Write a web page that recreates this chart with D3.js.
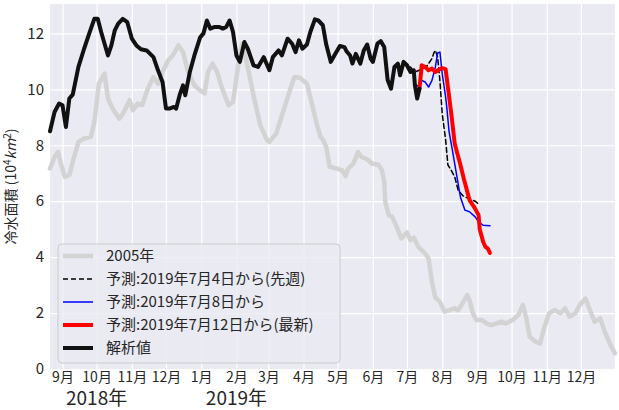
<!DOCTYPE html>
<html>
<head>
<meta charset="utf-8">
<script src="https://cdn.jsdelivr.net/npm/d3@7"></script>
<style>
  body { margin: 0; background: #fff; }
  text { font-family: 'Noto Sans CJK JP', 'Noto Sans', sans-serif; fill: #262626; }
</style>
</head>
<body>
<div id="chart"></div>
<script>
// 解析値
const analysis = [
  ['2018-08-21', 8.5], ['2018-08-25', 9.19], ['2018-08-29', 9.49], ['2018-09-01', 9.43],
  ['2018-09-04', 8.65], ['2018-09-07', 9.67], ['2018-09-10', 9.81], ['2018-09-15', 10.8],
  ['2018-09-20', 11.45], ['2018-09-25', 12.05], ['2018-09-29', 12.52], ['2018-10-02', 12.52],
  ['2018-10-05', 12.05], ['2018-10-08', 11.63], ['2018-10-11', 11.21], ['2018-10-14', 11.57],
  ['2018-10-17', 12.11], ['2018-10-20', 12.35], ['2018-10-24', 12.52], ['2018-10-28', 12.4],
  ['2018-11-01', 11.81], ['2018-11-05', 11.57], ['2018-11-09', 11.43], ['2018-11-14', 11.39],
  ['2018-11-20', 11.15], ['2018-11-24', 10.68], ['2018-11-28', 10.26], ['2018-12-01', 9.31],
  ['2018-12-04', 9.31], ['2018-12-08', 9.37], ['2018-12-10', 9.31], ['2018-12-13', 9.79],
  ['2018-12-16', 10.14], ['2018-12-18', 9.79], ['2018-12-22', 10.62], ['2018-12-26', 11.21],
  ['2018-12-31', 11.85], ['2019-01-03', 12.0], ['2019-01-06', 12.46], ['2019-01-09', 12.17],
  ['2019-01-13', 12.23], ['2019-01-17', 12.23], ['2019-01-20', 12.17], ['2019-01-23', 12.23],
  ['2019-01-26', 12.46], ['2019-01-29', 12.05], ['2019-02-01', 11.21], ['2019-02-04', 10.98],
  ['2019-02-08', 11.69], ['2019-02-11', 11.45], ['2019-02-16', 10.86], ['2019-02-20', 10.8],
  ['2019-02-25', 11.15], ['2019-03-02', 10.68], ['2019-03-05', 11.15], ['2019-03-10', 11.39],
  ['2019-03-13', 11.21], ['2019-03-18', 11.81], ['2019-03-22', 11.63], ['2019-03-25', 11.33],
  ['2019-03-28', 11.75], ['2019-03-31', 11.45], ['2019-04-04', 11.6], ['2019-04-07', 12.05],
  ['2019-04-11', 12.5], ['2019-04-14', 12.46], ['2019-04-18', 12.29], ['2019-04-21', 11.6],
  ['2019-04-25', 10.98], ['2019-04-29', 11.27], ['2019-05-03', 11.55], ['2019-05-07', 11.51],
  ['2019-05-09', 11.35], ['2019-05-12', 11.21], ['2019-05-14', 10.92], ['2019-05-17', 11.27],
  ['2019-05-21', 10.92], ['2019-05-24', 11.39], ['2019-05-27', 11.6], ['2019-05-30', 11.1],
  ['2019-06-01', 10.98], ['2019-06-05', 11.63], ['2019-06-08', 11.72], ['2019-06-11', 11.51],
  ['2019-06-14', 10.33], ['2019-06-17', 10.02], ['2019-06-20', 10.8], ['2019-06-23', 10.92],
  ['2019-06-25', 10.5], ['2019-06-28', 10.98], ['2019-07-01', 10.86], ['2019-07-04', 10.62],
  ['2019-07-07', 10.68], ['2019-07-08', 10.14], ['2019-07-10', 9.67], ['2019-07-12', 10.02]
];

// 2005年
const year2005 = [
  ['2018-08-21', 7.17], ['2018-08-25', 7.58], ['2018-08-28', 7.76], ['2018-08-31', 7.29],
  ['2018-09-03', 6.87], ['2018-09-07', 6.93], ['2018-09-10', 7.4], ['2018-09-15', 8.12],
  ['2018-09-20', 8.24], ['2018-09-26', 8.3], ['2018-09-29', 8.83], ['2018-10-03', 10.2],
  ['2018-10-08', 10.56], ['2018-10-11', 9.67], ['2018-10-15', 9.31], ['2018-10-21', 8.95],
  ['2018-10-25', 9.19], ['2018-10-30', 9.61], ['2018-11-02', 9.25], ['2018-11-06', 9.49],
  ['2018-11-10', 9.43], ['2018-11-15', 10.02], ['2018-11-20', 10.44], ['2018-11-24', 10.2],
  ['2018-11-28', 10.62], ['2018-12-03', 11.04], ['2018-12-07', 11.21], ['2018-12-12', 11.57],
  ['2018-12-16', 11.33], ['2018-12-20', 10.68], ['2018-12-26', 10.14], ['2018-12-31', 9.96],
  ['2019-01-04', 9.85], ['2019-01-07', 10.62], ['2019-01-11', 10.92], ['2019-01-15', 10.62],
  ['2019-01-19', 10.08], ['2019-01-25', 9.43], ['2019-01-29', 9.55], ['2019-02-03', 10.98],
  ['2019-02-06', 11.63], ['2019-02-10', 10.98], ['2019-02-16', 9.79], ['2019-02-22', 8.71],
  ['2019-02-28', 8.18], ['2019-03-02', 8.12], ['2019-03-08', 8.42], ['2019-03-14', 9.19],
  ['2019-03-20', 9.96], ['2019-03-24', 10.44], ['2019-03-29', 10.41], ['2019-04-04', 10.2],
  ['2019-04-08', 9.55], ['2019-04-13', 8.7], ['2019-04-16', 8.3], ['2019-04-18', 8.2],
  ['2019-04-21', 7.94], ['2019-04-24', 7.23], ['2019-04-30', 7.17], ['2019-05-05', 7.1],
  ['2019-05-08', 6.9], ['2019-05-10', 7.15], ['2019-05-15', 7.35], ['2019-05-19', 7.76],
  ['2019-05-22', 7.58], ['2019-05-27', 7.5], ['2019-05-31', 7.35], ['2019-06-06', 7.3],
  ['2019-06-09', 7.1], ['2019-06-11', 6.7], ['2019-06-12', 5.95], ['2019-06-15', 5.5],
  ['2019-06-18', 5.44], ['2019-06-22', 5.08], ['2019-06-26', 4.67], ['2019-07-01', 4.88],
  ['2019-07-04', 4.61], ['2019-07-07', 4.7], ['2019-07-11', 4.37], ['2019-07-17', 4.13],
  ['2019-07-20', 3.95], ['2019-07-23', 3.1], ['2019-07-26', 2.55], ['2019-07-30', 2.4],
  ['2019-08-03', 2.05], ['2019-08-08', 2.11], ['2019-08-12', 2.17], ['2019-08-15', 2.1],
  ['2019-08-18', 2.29], ['2019-08-23', 2.64], ['2019-08-25', 2.46], ['2019-08-28', 1.99],
  ['2019-08-31', 1.75], ['2019-09-05', 1.75], ['2019-09-09', 1.63], ['2019-09-13', 1.57],
  ['2019-09-18', 1.63], ['2019-09-22', 1.69], ['2019-09-26', 1.63], ['2019-10-02', 1.75],
  ['2019-10-07', 1.93], ['2019-10-11', 2.29], ['2019-10-14', 1.81], ['2019-10-17', 1.15],
  ['2019-10-22', 0.98], ['2019-10-26', 0.91], ['2019-10-30', 1.51], ['2019-11-03', 1.99],
  ['2019-11-08', 2.11], ['2019-11-13', 1.99], ['2019-11-17', 2.17], ['2019-11-21', 1.87],
  ['2019-11-26', 1.99], ['2019-11-30', 2.29], ['2019-12-05', 2.52], ['2019-12-09', 2.11],
  ['2019-12-13', 1.69], ['2019-12-18', 1.81], ['2019-12-22', 1.33], ['2019-12-27', 0.86],
  ['2019-12-31', 0.56]
];

// 予測:2019年7月4日から(先週)
const forecastJul4 = [
  ['2019-07-04', 10.8], ['2019-07-08', 10.62], ['2019-07-13', 10.7], ['2019-07-18', 10.8],
  ['2019-07-23', 11.1], ['2019-07-25', 11.33], ['2019-07-26', 11.39], ['2019-07-28', 11.15],
  ['2019-07-30', 10.3], ['2019-08-01', 9.13], ['2019-08-04', 8.2], ['2019-08-06', 7.3],
  ['2019-08-09', 7.1], ['2019-08-12', 6.87], ['2019-08-15', 6.4], ['2019-08-19', 6.2],
  ['2019-08-24', 6.1], ['2019-08-30', 6.0], ['2019-09-03', 5.86]
];

// 予測:2019年7月8日から
const forecastJul8 = [
  ['2019-07-08', 10.2], ['2019-07-11', 10.1], ['2019-07-14', 10.32], ['2019-07-17', 10.26],
  ['2019-07-20', 10.08], ['2019-07-23', 10.32], ['2019-07-26', 10.8], ['2019-07-28', 11.3],
  ['2019-07-30', 11.33], ['2019-07-31', 10.95], ['2019-08-01', 10.56], ['2019-08-04', 9.73],
  ['2019-08-05', 9.37], ['2019-08-07', 8.5], ['2019-08-10', 7.82], ['2019-08-13', 7.1],
  ['2019-08-17', 6.15], ['2019-08-21', 5.68], ['2019-08-25', 5.62], ['2019-08-30', 5.44],
  ['2019-09-02', 5.26], ['2019-09-06', 5.14], ['2019-09-12', 5.12]
];

// 予測:2019年7月12日から(最新)
const forecastJul12 = [
  ['2019-07-12', 10.02], ['2019-07-14', 10.86], ['2019-07-17', 10.8], ['2019-07-20', 10.68],
  ['2019-07-23', 10.74], ['2019-07-26', 10.62], ['2019-07-29', 10.7], ['2019-08-01', 10.76],
  ['2019-08-04', 10.72], ['2019-08-06', 10.08], ['2019-08-09', 9.13], ['2019-08-12', 8.06],
  ['2019-08-14', 7.75], ['2019-08-17', 7.3], ['2019-08-20', 6.8], ['2019-08-23', 6.35],
  ['2019-08-25', 6.04], ['2019-08-29', 5.8], ['2019-09-02', 5.5], ['2019-09-03', 5.0],
  ['2019-09-06', 4.55], ['2019-09-08', 4.37], ['2019-09-10', 4.31], ['2019-09-12', 4.15]
];

const monthTicks = [
  '2018-09-01', '2018-10-01', '2018-11-01', '2018-12-01', '2019-01-01', '2019-02-01',
  '2019-03-01', '2019-04-01', '2019-05-01', '2019-06-01', '2019-07-01', '2019-08-01',
  '2019-09-01', '2019-10-01', '2019-11-01', '2019-12-01'
];
const yearLabels = [['2018-10-01', '2018年'], ['2019-02-01', '2019年']];
const yTicks = [0, 2, 4, 6, 8, 10, 12];

const width = 619;
const height = 410;
const margin = { top: 4, right: 4, bottom: 41, left: 50 };
const graphWidth = width - margin.left - margin.right;
const graphHeight = height - margin.top - margin.bottom;

const parse = d3.timeParse('%Y-%m-%d');

const xScale = d3
  .scaleTime()
  .domain([parse('2018-08-21'), parse('2019-12-31')])
  .range([0, graphWidth]);

const yScale = d3.scaleLinear().domain([0, 13.05]).range([graphHeight, 0]);

const line = d3
  .line()
  .x((d) => xScale(parse(d[0])))
  .y((d) => yScale(d[1]));

const svg = d3
  .select('#chart')
  .append('svg')
  .attr('width', width)
  .attr('height', height);

const g = svg
  .append('g')
  .attr('transform', `translate(${margin.left},${margin.top})`);

g.append('rect')
  .attr('width', graphWidth)
  .attr('height', graphHeight)
  .attr('fill', '#eaeaf2');

// grid
g.append('g')
  .attr('transform', `translate(0,${graphHeight})`)
  .call(d3.axisBottom(xScale).tickValues(monthTicks.map(parse)).tickSize(-graphHeight).tickFormat(''))
  .call((a) => a.select('.domain').remove())
  .call((a) => a.selectAll('line').attr('stroke', '#fff').attr('stroke-width', 1.2));

g.append('g')
  .call(d3.axisLeft(yScale).tickValues(yTicks).tickSize(-graphWidth).tickFormat(''))
  .call((a) => a.select('.domain').remove())
  .call((a) => a.selectAll('line').attr('stroke', '#fff').attr('stroke-width', 1.2));

const series = [
  { data: year2005, color: '#d3d3d3', width: 4.5, dash: null, label: '2005年' },
  { data: forecastJul4, color: '#000', width: 1.5, dash: '5,3', label: '予測:2019年7月4日から(先週)' },
  { data: forecastJul8, color: '#0000ff', width: 1.5, dash: null, label: '予測:2019年7月8日から' },
  { data: forecastJul12, color: '#ff0000', width: 4, dash: null, label: '予測:2019年7月12日から(最新)' },
  { data: analysis, color: '#111', width: 4, dash: null, label: '解析値' },
];

g.selectAll('path.series')
  .data(series)
  .enter()
  .append('path')
  .attr('class', 'series')
  .attr('d', (d) => line(d.data))
  .attr('fill', 'none')
  .attr('stroke', (d) => d.color)
  .attr('stroke-width', (d) => d.width)
  .attr('stroke-dasharray', (d) => d.dash)
  .attr('stroke-linejoin', 'round')
  .attr('stroke-linecap', 'round');

// axes labels
const xAxis = g
  .append('g')
  .attr('transform', `translate(0,${graphHeight})`)
  .call(
    d3.axisBottom(xScale)
      .tickValues(monthTicks.map(parse))
      .tickSize(0)
      .tickPadding(3)
      .tickFormat((d) => d.getMonth() + 1 + '月')
  );
xAxis.select('.domain').remove();
xAxis.selectAll('text').style('font-size', '14px').attr('fill', '#262626');

g.selectAll('text.year')
  .data(yearLabels)
  .enter()
  .append('text')
  .attr('class', 'year')
  .attr('x', (d) => xScale(parse(d[0])))
  .attr('y', graphHeight + 36)
  .attr('text-anchor', 'middle')
  .style('font-size', '19px')
  .text((d) => d[1]);

const yAxis = g
  .append('g')
  .call(d3.axisLeft(yScale).tickValues(yTicks).tickSize(0).tickPadding(6));
yAxis.select('.domain').remove();
yAxis.selectAll('text').style('font-size', '15px').attr('fill', '#262626');

const yLabel = svg
  .append('text')
  .attr('transform', `translate(16,${margin.top + graphHeight / 2}) rotate(-90)`)
  .attr('text-anchor', 'middle')
  .style('font-size', '14px');
yLabel.append('tspan').text('冷水面積 (10');
yLabel.append('tspan').attr('dy', -5).style('font-size', '10px').text('4');
yLabel.append('tspan').attr('dy', 5).style('font-style', 'italic').text('km');
yLabel.append('tspan').attr('dy', -5).style('font-size', '10px').text('2');
yLabel.append('tspan').attr('dy', 5).text(')');

// legend
const legend = svg.append('g').attr('transform', 'translate(58,244)');
legend
  .append('rect')
  .attr('width', 282)
  .attr('height', 119)
  .attr('rx', 4)
  .attr('fill', 'rgba(234,234,242,0.8)')
  .attr('stroke', '#cccccc')
  .attr('stroke-width', 1);

const items = legend
  .selectAll('g.item')
  .data(series)
  .enter()
  .append('g')
  .attr('class', 'item')
  .attr('transform', (d, i) => `translate(0,${12 + i * 23})`);

items
  .append('line')
  .attr('x1', 5)
  .attr('x2', 35)
  .attr('stroke', (d) => d.color)
  .attr('stroke-width', (d) => d.width)
  .attr('stroke-dasharray', (d) => d.dash);

items
  .append('text')
  .attr('x', 48)
  .attr('dy', '0.35em')
  .style('font-size', '15px')
  .text((d) => d.label);
</script>
</body>
</html>
